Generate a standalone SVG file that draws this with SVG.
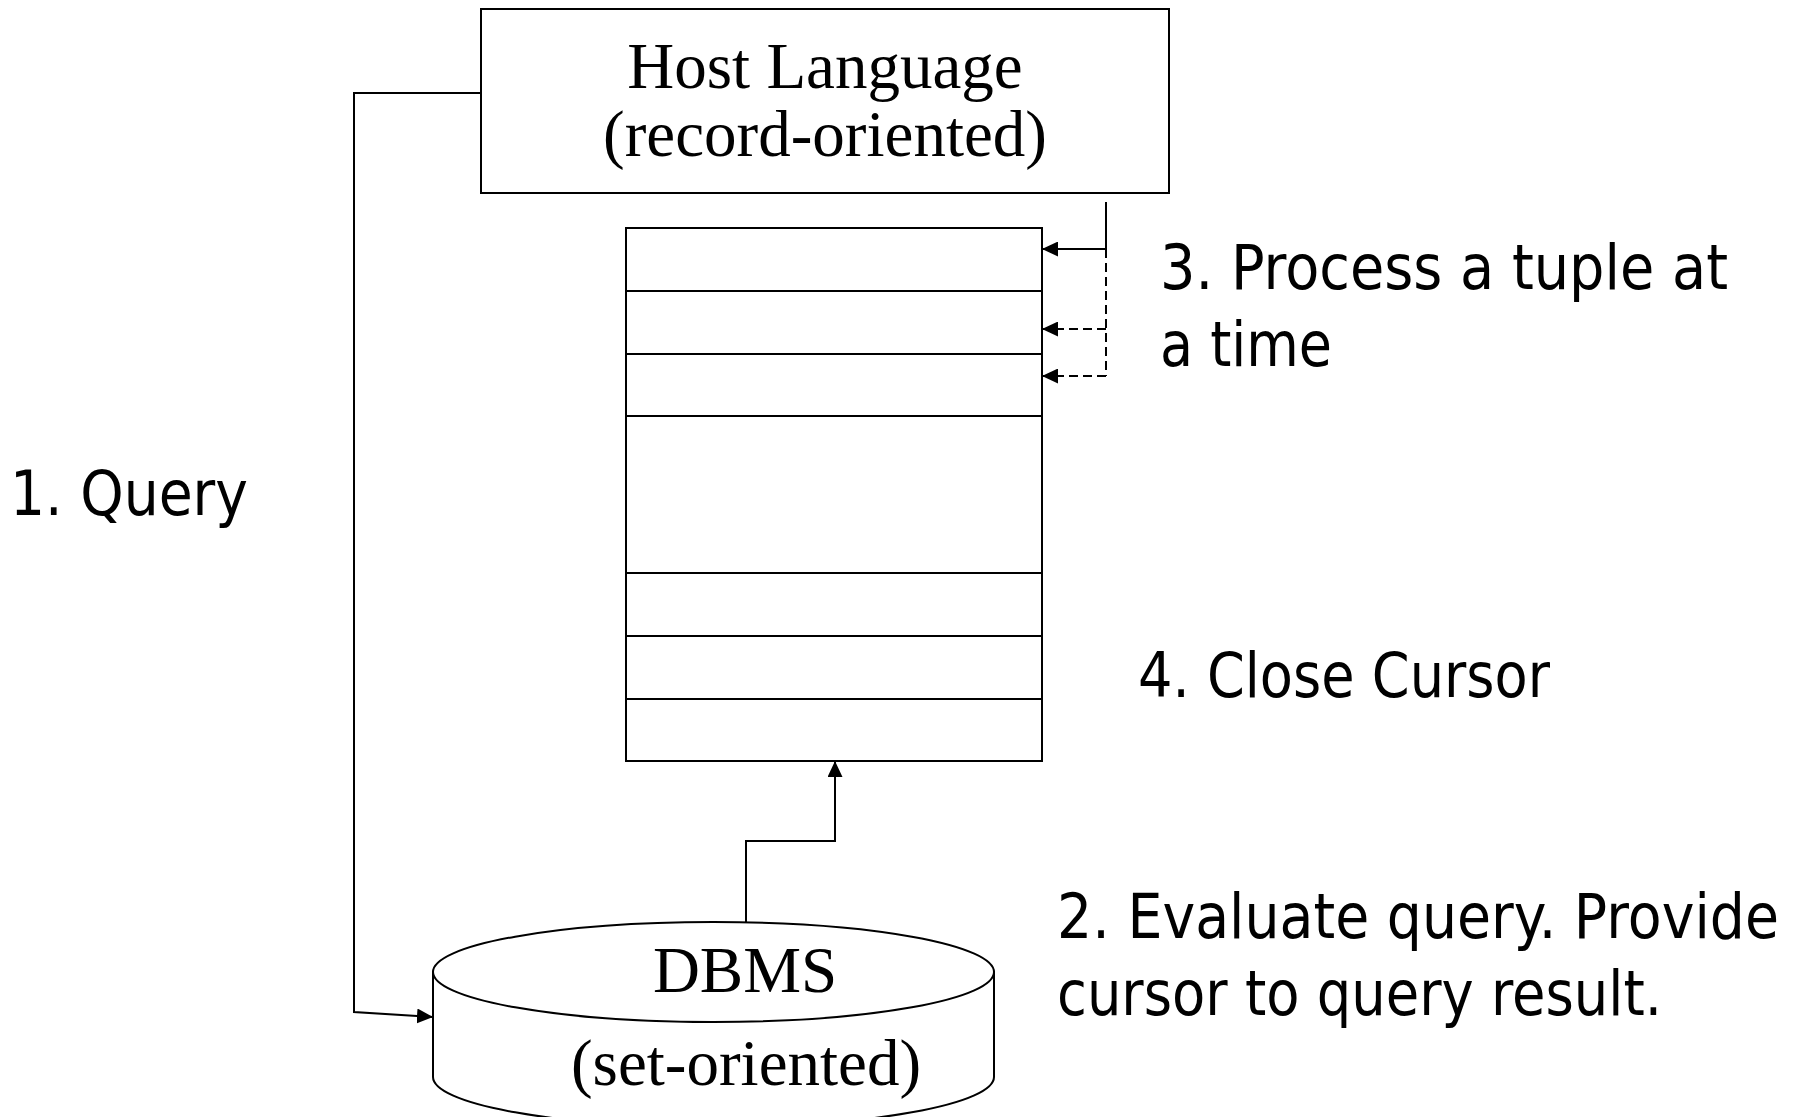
<svg xmlns="http://www.w3.org/2000/svg" width="1797" height="1117" viewBox="0 0 1797 1117">
<style>
.shape{fill:#fff;stroke:#000;stroke-width:2}
.line{fill:none;stroke:#000;stroke-width:2}
.dash{fill:none;stroke:#000;stroke-width:2;stroke-dasharray:9,5}
.serif{font-family:"Liberation Serif","Times New Roman",serif;font-size:65px;fill:#000;text-anchor:middle}
.sans{font-family:"DejaVu Sans",Tahoma,sans-serif;font-size:62px;fill:#000}
</style>
<defs>
<marker id="arr" markerUnits="userSpaceOnUse" markerWidth="16" markerHeight="15" refX="16" refY="7.5" orient="auto">
<path d="M0,0 L16,7.5 L0,15 z" fill="#000"/>
</marker>
</defs>
<g id="host">
<rect class="shape" x="481" y="9" width="688" height="184"/>
<text class="serif" x="825" y="88">Host Language</text>
<text class="serif" x="825" y="156">(record-oriented)</text>
</g>
<g id="cursor-table">
<rect class="shape" x="626" y="228" width="416" height="533"/>
<line class="line" x1="626" y1="291" x2="1042" y2="291"/>
<line class="line" x1="626" y1="354" x2="1042" y2="354"/>
<line class="line" x1="626" y1="416" x2="1042" y2="416"/>
<line class="line" x1="626" y1="573" x2="1042" y2="573"/>
<line class="line" x1="626" y1="636" x2="1042" y2="636"/>
<line class="line" x1="626" y1="699" x2="1042" y2="699"/>
</g>
<g id="dbms">
<path class="shape" d="M433,972 L433,1077 A280.5,50 0 0 0 994,1077 L994,972 Z"/>
<ellipse class="shape" cx="713.5" cy="972" rx="280.5" ry="50"/>
<text class="serif" x="745" y="992">DBMS</text>
<text class="serif" x="746" y="1085">(set-oriented)</text>
</g>
<g id="connectors">
<polyline class="line" points="481,93 354,93 354,1012 433,1017" marker-end="url(#arr)"/>
<polyline class="line" points="746,922 746,841 835,841 835,761" marker-end="url(#arr)"/>
<polyline class="line" points="1106,202 1106,249 1042,249" marker-end="url(#arr)"/>
<line class="dash" x1="1106" y1="249" x2="1106" y2="376"/>
<line class="dash" x1="1106" y1="329" x2="1042" y2="329" marker-end="url(#arr)"/>
<line class="dash" x1="1106" y1="376" x2="1042" y2="376" marker-end="url(#arr)"/>
</g>
<g id="labels">
<text class="sans" x="10" y="515" textLength="238" lengthAdjust="spacingAndGlyphs">1. Query</text>
<text class="sans" x="1160" y="289" textLength="568" lengthAdjust="spacingAndGlyphs">3. Process a tuple at</text>
<text class="sans" x="1160" y="366" textLength="172" lengthAdjust="spacingAndGlyphs">a time</text>
<text class="sans" x="1138" y="697" textLength="412" lengthAdjust="spacingAndGlyphs">4. Close Cursor</text>
<text class="sans" x="1057" y="938" textLength="722" lengthAdjust="spacingAndGlyphs">2. Evaluate query. Provide</text>
<text class="sans" x="1057" y="1015" textLength="605" lengthAdjust="spacingAndGlyphs">cursor to query result.</text>
</g>
</svg>
